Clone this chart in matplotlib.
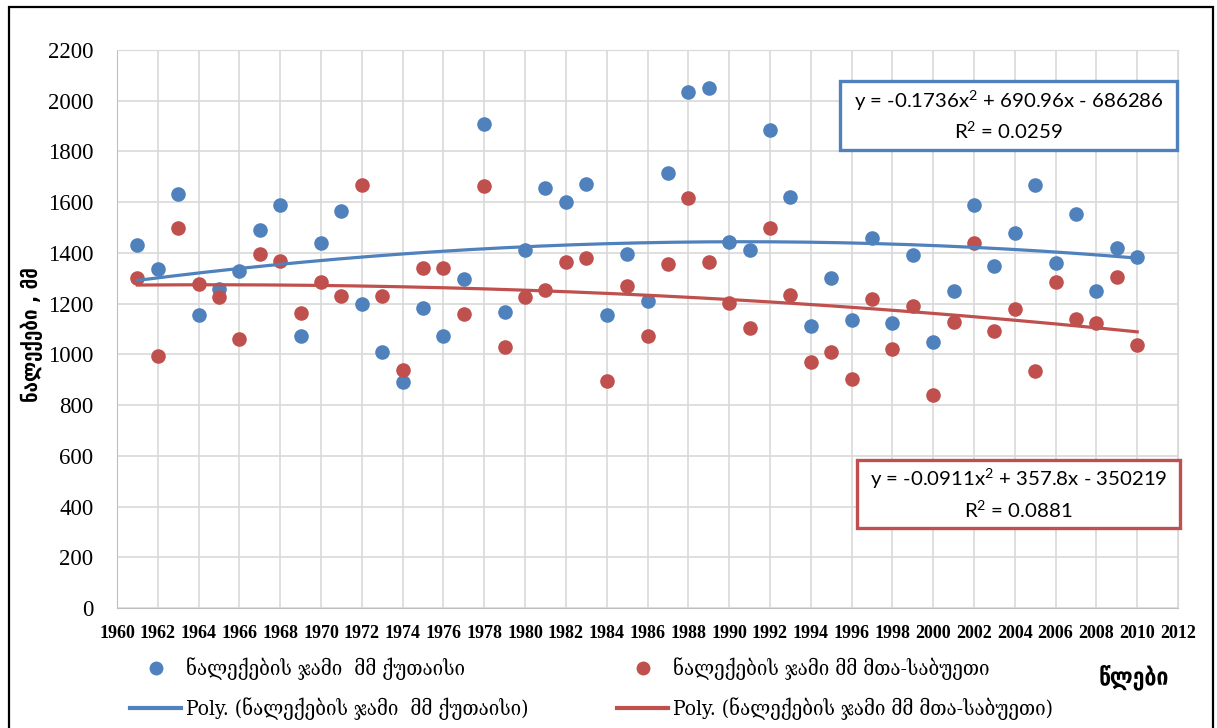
import numpy as np
import matplotlib
matplotlib.use("Agg")
import matplotlib.pyplot as plt
from matplotlib.patches import Rectangle
from matplotlib.lines import Line2D

plt.rcParams["mathtext.fontset"] = "custom"
plt.rcParams["mathtext.rm"] = "Lato"
plt.rcParams["mathtext.it"] = "Lato:italic"
plt.rcParams["mathtext.bf"] = "Lato:bold"

# ---------------- data ----------------
years = list(range(1961, 2011))

kutaisi = [1433, 1337, 1631, 1154, 1259, 1328, 1490, 1589, 1074, 1438,
           1567, 1197, 1008, 892, 1183, 1074, 1299, 1909, 1167, 1410,
           1657, 1600, 1671, 1155, 1395, 1212, 1717, 2035, 2049, 1444,
           1410, 1885, 1621, 1113, 1300, 1137, 1458, 1124, 1392, 1048,
           1249, 1588, 1349, 1480, 1668, 1362, 1555, 1251, 1420, 1385]

mta_sabueti = [1300, 992, 1500, 1279, 1226, 1061, 1395, 1368, 1162, 1284,
               1229, 1668, 1230, 940, 1341, 1340, 1159, 1664, 1029, 1225,
               1253, 1366, 1379, 895, 1270, 1071, 1356, 1617, 1363, 1201,
               1104, 1497, 1234, 971, 1009, 904, 1218, 1020, 1190, 839,
               1128, 1438, 1092, 1179, 933, 1287, 1140, 1125, 1305, 1038]

label_kut = "ნალექების ჯამი  მმ ქუთაისი"
label_mta = "ნალექების ჯამი მმ მთა-საბუეთი"
eq_kut = "y = -0.1736x$^{2}$ + 690.96x - 686286\nR$^{2}$ = 0.0259"
eq_mta = "y = -0.0911x$^{2}$ + 357.8x - 350219\nR$^{2}$ = 0.0881"
ylabel = "ნალექები , მმ"
xlabel = "წლები"
xticks = list(range(1960, 2013, 2))
yticks = list(range(0, 2201, 200))

BLUE = "#4F81BD"
RED = "#C0504D"

W, H = 1217, 728
def fx(x): return x / W
def fy(y): return 1 - y / H

fig = plt.figure(figsize=(W / 100, H / 100), dpi=100)
ax = fig.add_axes([fx(117), fy(608), fx(1178) - fx(117), fy(50) - fy(608)])

yrs = np.array(years, dtype=float)
k = np.array(kutaisi, dtype=float)
m = np.array(mta_sabueti, dtype=float)

ax.plot(yrs, k, "o", color=BLUE, ms=10.5, mec="none", zorder=3)
ax.plot(yrs, m, "o", color=RED, ms=10.5, mec="none", zorder=3)

xs = np.linspace(yrs.min(), yrs.max(), 300)
pk = np.polyfit(yrs - 1985, k, 2)
pm = np.polyfit(yrs - 1985, m, 2)
ax.plot(xs, np.polyval(pk, xs - 1985), color=BLUE, lw=2.3, zorder=4)
ax.plot(xs, np.polyval(pm, xs - 1985), color=RED, lw=2.3, zorder=4)

ax.set_xlim(1960, 2012)
ax.set_ylim(0, 2200)
ax.set_xticks(xticks)
ax.set_yticks(yticks)
ax.grid(True, color="#d9d9d9", lw=1.2, zorder=0)
ax.set_axisbelow(True)
for s in ["top", "right"]:
    ax.spines[s].set_color("#d9d9d9")
for s in ["left", "bottom"]:
    ax.spines[s].set_color("#bfbfbf")
ax.tick_params(length=0)
ax.tick_params(axis="y", pad=17, labelsize=16.5)
ax.tick_params(axis="x", pad=12, labelsize=13)
for t in ax.get_yticklabels():
    t.set_family("Liberation Serif")
for t in ax.get_xticklabels():
    t.set_family("Liberation Serif")
    t.set_fontweight("bold")

# axis titles
fig.text(fx(32), fy(335), ylabel, rotation=90, ha="center", va="center",
         fontsize=15, fontweight="bold", family=["DejaVu Sans"], fontstretch="condensed")
fig.text(fx(1134), fy(677), xlabel, ha="center", va="center",
         fontsize=17, fontweight="bold", family=["DejaVu Sans"], fontstretch="condensed")

# legends
lk_dot = Line2D([], [], marker="o", ls="none", color=BLUE, ms=10, mec="none")
lk_line = Line2D([], [], color=BLUE, lw=3)
lm_dot = Line2D([], [], marker="o", ls="none", color=RED, ms=10, mec="none")
lm_line = Line2D([], [], color=RED, lw=3)
common = dict(loc="upper left", frameon=False, borderpad=0, handlelength=2.45,
              handletextpad=0.2, labelspacing=0.8,
              prop=dict(family="DejaVu Serif", size=15, stretch="condensed"),
              bbox_transform=fig.transFigure)
leg1 = fig.legend([lk_dot, lk_line], [label_kut, "Poly. (" + label_kut + ")"],
                  bbox_to_anchor=(fx(120), fy(647)), **common)
leg2 = fig.legend([lm_dot, lm_line], [label_mta, "Poly. (" + label_mta + ")"],
                  bbox_to_anchor=(fx(607), fy(647)), **common)

# equation boxes
for (x0, y0, x1, y1, col, txt) in [(840, 81, 1177, 150, BLUE, eq_kut),
                                   (857, 460, 1180, 528, RED, eq_mta)]:
    fig.patches.append(Rectangle((fx(x0), fy(y1)), fx(x1) - fx(x0), fy(y0) - fy(y1),
                                 transform=fig.transFigure, facecolor="white",
                                 edgecolor=col, lw=2.4, zorder=5))
    fig.text(fx((x0 + x1) / 2), fy((y0 + y1) / 2), txt, ha="center", va="center",
             fontsize=14.7, family="Lato", linespacing=1.45, zorder=6)

# outer frame
fig.patches.append(Rectangle((fx(9), -0.05), fx(1213) - fx(9), fy(7) + 0.05,
                             transform=fig.transFigure, fill=False,
                             edgecolor="black", lw=1.6))

fig.savefig("out.png", dpi=100)
